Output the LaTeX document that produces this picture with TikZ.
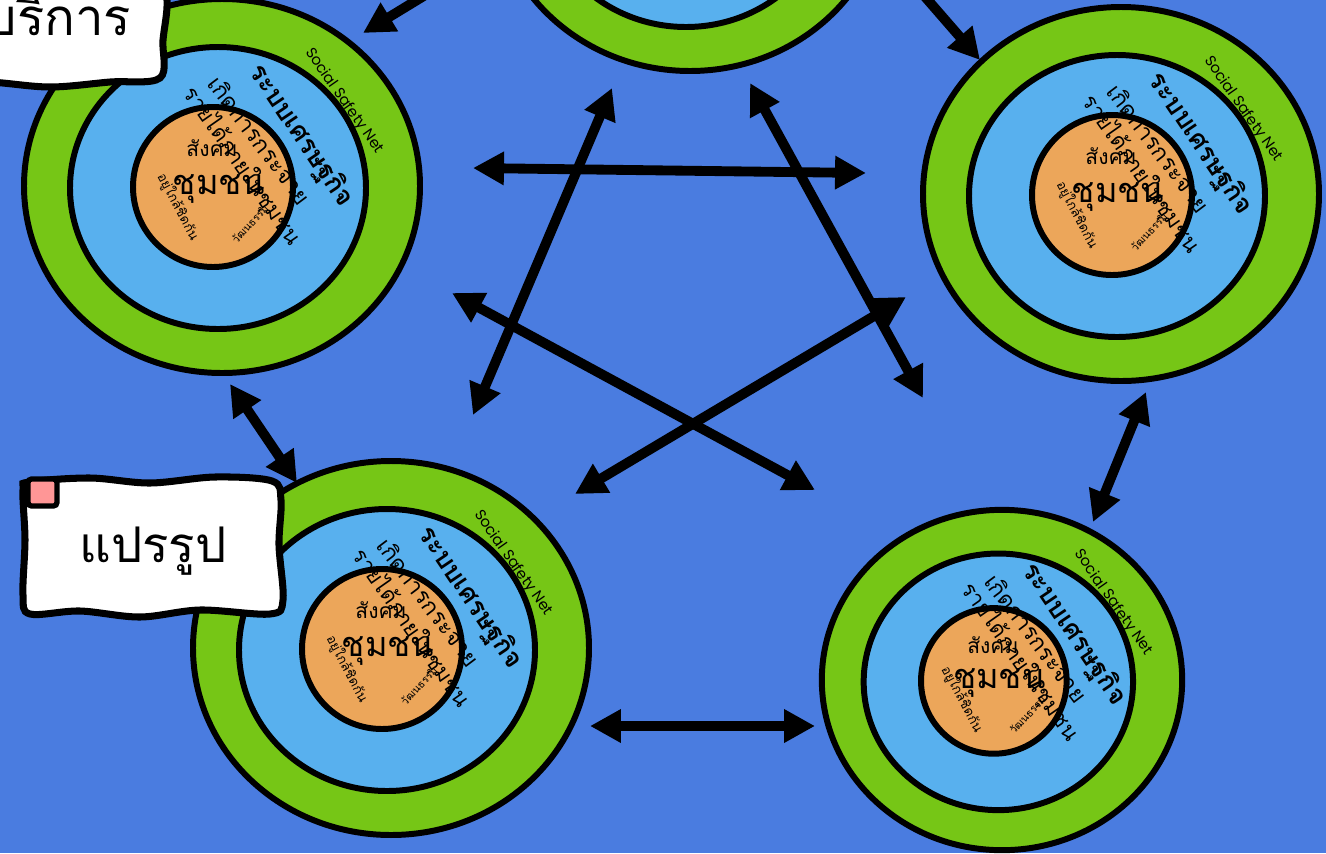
\documentclass[tikz,border=0pt]{standalone}
\usepackage{fontspec}
\setmainfont{Liberation Sans}
\newfontfamily\thaifont[Script=Thai]{Loma}
\newfontfamily\netfont{Poppins}
\usetikzlibrary{arrows.meta}

\definecolor{sky}{RGB}{74,124,224}
\definecolor{ringgreen}{RGB}{118,198,22}
\definecolor{ringblue}{RGB}{88,176,238}
\definecolor{coreorange}{RGB}{236,166,90}
\definecolor{tagpink}{RGB}{255,150,150}

\tikzset{
  ring/.style={draw=black, line width=3.4pt},
  thai/.style={inner sep=0pt, font=\thaifont\fontsize{#1}{#1}\selectfont},
  thaibold/.style={inner sep=0pt, font=\thaifont\bfseries\fontsize{#1}{#1}\selectfont},
  netlabel/.style={inner sep=0pt, font=\netfont\fontsize{8.5}{8.5}\selectfont},
  tagbox/.style={fill=white, draw=black, line width=4pt},
  link/.style={line width=5.6pt, {Triangle[length=17.6pt,width=18pt]}-{Triangle[length=17.6pt,width=18pt]}},
  oneway/.style={line width=5.6pt, -{Triangle[length=17.6pt,width=18pt]}},
  community/.pic={
    \path[ring, fill=ringgreen] (0,0) ellipse [x radius=198, y radius=187];
    \path[ring, fill=ringblue] (-4,2) ellipse [x radius=148, y radius=141];
    \path[ring, fill=coreorange] (-9,1) circle [radius=80];
    \node[netlabel, rotate=-55] (-net) at (122,-85) {Social Safety Net};
    \node[thaibold=15, rotate=-56] (-econ) at (79,-50) {ระบบเศรษฐกิจ};
    \node[thai=13, rotate=-53] (-spread) at (38,-46) {เกิดการกระจาย};
    \node[thai=12.5, rotate=-55] (-income) at (20,-20) {รายได้ภายในชุมชน};
    \node[thai=12] (-society) at (-10,-38) {สังคม};
    \node[thai=19.5] (-core) at (-3,3) {ชุมชน};
    \node[thai=7.5, rotate=-62] (-close) at (-44,21) {อยู่ใกล้ชิดกัน};
    \node[thai=6, rotate=47] (-culture) at (28,38) {วัฒนธรรม};
  }
}

\begin{document}
\begin{tikzpicture}[x=0.02cm, y=-0.02cm]
  \fill[sky] (0,0) rectangle (1326,853);
  \useasboundingbox (0,0) rectangle (1326,853);
  \clip (0,0) rectangle (1326,853);

  \pic (top) at (690,-116) {community};
  \pic (tl) at (222,186) {community};
  \pic (tr) at (1121,194) {community};
  \pic (bl) at (391,648) {community};
  \pic[scale=0.91] (br) at (1002,680) {community};

  \coordinate (top-a) at (450,-20);   \coordinate (tl-in) at (363,33);
  \coordinate (top-b) at (900,-32);   \coordinate (tr-in) at (980,60);
  \coordinate (h1) at (473,168);      \coordinate (h2) at (866,173);
  \coordinate (d1) at (612,88);       \coordinate (d2) at (473,415);
  \coordinate (e1) at (750,83);       \coordinate (e2) at (923,398);
  \coordinate (f1) at (452,293);      \coordinate (f2) at (815,490);
  \coordinate (g1) at (906,297);      \coordinate (g2) at (575,494);
  \coordinate (tl-low) at (230,384);  \coordinate (bl-up) at (297,483);
  \coordinate (tr-low) at (1146,392); \coordinate (br-up) at (1093,522);
  \coordinate (bl-side) at (590,726); \coordinate (br-side) at (815,726);

  \draw[oneway] (top-a) -- (tl-in);
  \draw[oneway] (top-b) -- (tr-in);
  \draw[link] (h1) -- (h2);
  \draw[link] (d1) -- (d2);
  \draw[link] (e1) -- (e2);
  \draw[link] (f1) -- (f2);
  \draw[link] (g1) -- (g2);
  \draw[link] (tl-low) -- (bl-up);
  \draw[link] (tr-low) -- (br-up);
  \draw[link] (bl-side) -- (br-side);

  \path[tagbox] plot[smooth cycle, tension=0.55] coordinates {(-80,-45) (40,-48) (158,-42) (167,0) (163,40) (160,78) (110,82) (50,87) (-10,82) (-80,80) (-88,20)};
  \node[thai=29] (service) at (58,15) {บริการ};

  \path[tagbox] plot[smooth cycle, tension=0.55] coordinates {(30,482) (90,478) (150,483) (215,477) (272,481) (281,500) (279,545) (283,600) (270,614) (200,610) (140,617) (80,611) (30,614) (23,595) (25,540) (23,490)};
  \draw[fill=tagpink, line width=3pt, rounded corners=2pt] (28,479) rectangle (57,506);
  \node[thai=28] (processing) at (153,551) {แปรรูป};
\end{tikzpicture}
\end{document}
